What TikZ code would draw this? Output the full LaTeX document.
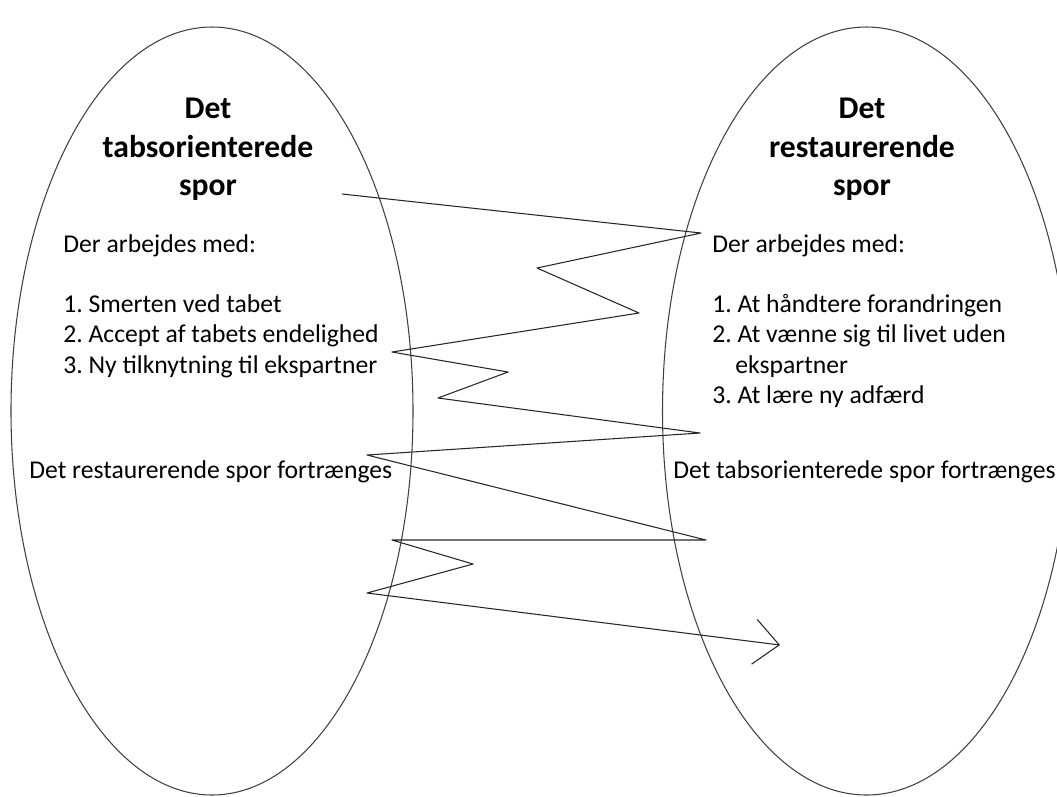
\documentclass[tikz,border=0pt]{standalone}
\usepackage{fontspec}
\setmainfont{Carlito}
\usetikzlibrary{arrows.meta}
\frenchspacing

\begin{document}
\begin{tikzpicture}[line join=round,
  spor/.style={draw=black!75,line width=0.6pt},
  zig/.style={draw=black!85,line width=0.6pt},
  titel/.style={font=\fontsize{18}{21}\selectfont\bfseries,anchor=base,inner sep=0pt},
  tekst/.style={font=\fontsize{14.6}{17}\selectfont,anchor=base west,inner sep=0pt}]
  \useasboundingbox (0,0) rectangle (21.14,-15.92);
  % the two tracks
  \draw[spor] (4.24,-8.22) ellipse [x radius=4.02,y radius=7.68];
  \draw[spor] (17.33,-8.22) ellipse [x radius=4.08,y radius=7.68];
  % left track
  \node[titel] (tabA) at (4.16,-2.36) {Det};
  \node[titel] (tabB) at (4.16,-3.14) {tabsorienterede};
  \node[titel] (tabC) at (4.16,-3.90) {spor};
  \node[tekst] (tabDer) at (1.26,-5.04) {Der arbejdes med:};
  \node[tekst] (tab1) at (1.26,-6.24) {1. Smerten ved tabet};
  \node[tekst] (tab2) at (1.26,-6.84) {2. Accept af tabets endelighed};
  \node[tekst] (tab3) at (1.26,-7.46) {3. Ny tilknytning til ekspartner};
  \node[tekst] (tabFort) at (0.58,-9.56) {Det restaurerende spor fortrænges};
  % right track
  \node[titel] (resA) at (17.24,-2.36) {Det};
  \node[titel] (resB) at (17.24,-3.14) {restaurerende};
  \node[titel] (resC) at (17.24,-3.90) {spor};
  \node[tekst] (resDer) at (14.24,-5.04) {Der arbejdes med:};
  \node[tekst] (res1) at (14.24,-6.24) {1. At håndtere forandringen};
  \node[tekst] (res2) at (14.24,-6.84) {2. At vænne sig til livet uden};
  \node[tekst] (res2b) at (14.70,-7.46) {ekspartner};
  \node[tekst] (res3) at (14.24,-8.06) {3. At lære ny adfærd};
  \node[tekst] (resFort) at (13.46,-9.56) {Det tabsorienterede spor fortrænges};
  % oscillation between the tracks
  \coordinate (Z0) at (6.84,-3.88);
  \coordinate (Z1) at (14.02,-4.66);
  \coordinate (Z2) at (10.74,-5.36);
  \coordinate (Z3) at (12.78,-6.26);
  \coordinate (Z4) at (7.84,-7.04);
  \coordinate (Z5) at (10.16,-7.44);
  \coordinate (Z6) at (8.76,-7.96);
  \coordinate (Z7) at (14.00,-8.66);
  \coordinate (Z8) at (7.34,-9.10);
  \coordinate (Z9) at (14.12,-10.80);
  \coordinate (Z10) at (7.84,-10.80);
  \coordinate (Z11) at (9.46,-11.28);
  \coordinate (Z12) at (7.34,-11.86);
  \coordinate (Z13) at (15.60,-12.90);
  \draw[zig,-{Straight Barb[length=0.5cm,width=0.9cm]}] (Z0) -- (Z1) -- (Z2) -- (Z3) -- (Z4) -- (Z5) -- (Z6)
    -- (Z7) -- (Z8) -- (Z9) -- (Z10) -- (Z11) -- (Z12) -- (Z13);
\end{tikzpicture}
\end{document}
